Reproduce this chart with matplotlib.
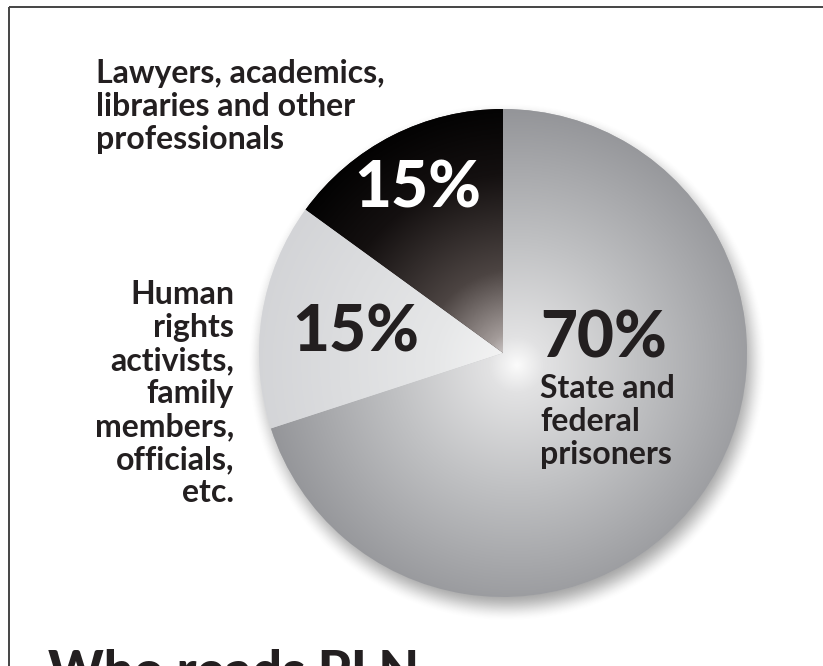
import numpy as np
import matplotlib
matplotlib.use("Agg")
import matplotlib.pyplot as plt
from matplotlib.colors import LinearSegmentedColormap

W, H = 823, 666

# data
shares = [70, 15, 15]
pct_labels = ["70%", "15%", "15%"]
group_labels = [
    "State and\nfederal\nprisoners",
    "Human\nrights\nactivists,\nfamily\nmembers,\nofficials,\netc.",
    "Lawyers, academics,\nlibraries and other\nprofessionals",
]
title = "Who reads PLN"

# pie geometry in pixels (y measured up from the bottom)
cx, cy, R = 503, H - 353, 244
hx, hy = 517, H - 365   # highlight spot

fig = plt.figure(figsize=(W / 100, H / 100), dpi=100)
ax = fig.add_axes([0, 0, 1, 1])
ax.set_frame_on(False)

# frame lines on the left and top
ax.plot([9, 9], [0, H - 7], color="#444444", lw=1.4, solid_capstyle="butt")
ax.plot([9, W], [H - 7, H - 7], color="#444444", lw=1.4, solid_capstyle="butt")

# soft drop shadow
sx = np.linspace(cx - R - 40, cx + R + 40, 600)
sy = np.linspace(cy - R - 40, cy + R + 40, 600)
SX, SY = np.meshgrid(sx, sy)
d = np.hypot(SX - (cx + 4), SY - (cy - 9))
t = np.clip((R + 16 - d) / 30, 0, 1)
alpha = 0.55 * t * t * (3 - 2 * t)
shadow = np.zeros(SX.shape + (4,))
shadow[..., :3] = 0.35
shadow[..., 3] = alpha
ax.imshow(shadow, extent=[sx[0], sx[-1], sy[0], sy[-1]], origin="lower",
          zorder=1, interpolation="bilinear")

wedges, _ = ax.pie(shares, center=(cx, cy), radius=R, startangle=90,
                   counterclock=False, colors=["#b0b1b4", "#dcdde0", "#1a1414"],
                   wedgeprops=dict(linewidth=0), frame=True)
for w in wedges:
    w.set_zorder(2)

# radial gradients clipped to each wedge
gx = np.linspace(cx - R, cx + R, 700)
gy = np.linspace(cy - R, cy + R, 700)
GX, GY = np.meshgrid(gx, gy)
dist = np.hypot(GX - hx, GY - hy) / (R + 30)

cmaps = [
    LinearSegmentedColormap.from_list("grey", [(0, "#fbfbfb"), (0.1, "#e2e2e3"),
                                               (0.45, "#c0c1c3"), (1, "#8e8f93")]),
    LinearSegmentedColormap.from_list("light", [(0, "#f6f6f6"), (0.3, "#e6e7e8"),
                                                (1, "#d2d3d6")]),
    LinearSegmentedColormap.from_list("dark", [(0, "#f2f0f0"), (0.12, "#a49c9a"),
                                               (0.35, "#4c4442"), (0.7, "#141010"),
                                               (1, "#000000")]),
]
for w, cm in zip(wedges, cmaps):
    im = ax.imshow(cm(np.clip(dist, 0, 1)), extent=[gx[0], gx[-1], gy[0], gy[-1]],
                   origin="lower", zorder=3, interpolation="bilinear")
    im.set_clip_path(w)

big = dict(family="Lato", fontweight=900, fontsize=46, zorder=5)
lab = dict(family="Lato", fontweight="bold", fontsize=23, color="#231f20",
           linespacing=1.17, zorder=5)

ax.text(540, H - 357, pct_labels[0], color="#231f20", ha="left", va="baseline", **big)
ax.text(356, H - 352, pct_labels[1], color="#231f20", ha="center", va="baseline", **big)
ax.text(418, H - 208, pct_labels[2], color="white", ha="center", va="baseline", **big)

ax.text(540, H - 374, group_labels[0], ha="left", va="top", **lab)
ax.text(234, H - 280, group_labels[1], ha="right", va="top", multialignment="right", **lab)
ax.text(96, H - 59, group_labels[2], ha="left", va="top", **lab)

ax.text(48, H - 689, title, family="Lato", fontweight=900, fontsize=38,
        color="#231f20", ha="left", va="baseline", zorder=5)

ax.set_xlim(0, W)
ax.set_ylim(0, H)
ax.set_aspect("auto")
ax.axis("off")

fig.savefig("out.png", dpi=100, facecolor="white")
